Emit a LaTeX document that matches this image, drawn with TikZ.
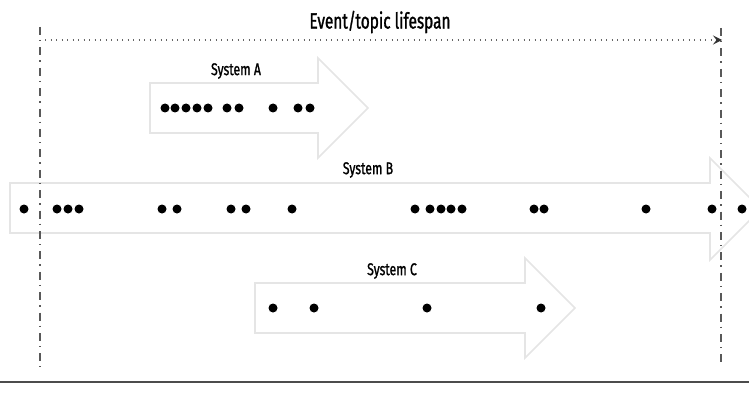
\documentclass[tikz,border=0pt]{standalone}
\usepackage{fontspec}
\usetikzlibrary{arrows.meta}
\newfontfamily\condfont[FakeStretch=0.72,FakeBold=1.2]{Fira Sans}
\newfontfamily\titlefont[FakeStretch=0.70,FakeBold=1.2]{Fira Sans}
\tikzset{
  flowarrow/.style={draw=black!10, line width=1.6pt, fill=white, line join=miter},
  evt/.style={circle, fill=black, inner sep=0pt, minimum size=9pt},
  syslabel/.style={font=\condfont\fontsize{17}{19}\selectfont, inner sep=0pt},
  bound/.style={draw=black!65, line width=2pt, dash pattern=on 8pt off 5pt on 1.4pt off 6pt},
}
\begin{document}
\begin{tikzpicture}[x=1pt, y=-1pt]
\useasboundingbox (0,0) rectangle (749,417);
\clip (0,0) rectangle (749,417);
% system arrows
\draw[flowarrow] (150,83) -- (318,83) -- (318,58) -- (368,108) -- (318,158) -- (318,133) -- (150,133) -- cycle;
\draw[flowarrow] (10,183) -- (710,183) -- (710,158) -- (761,209) -- (710,260) -- (710,233) -- (10,233) -- cycle;
\draw[flowarrow] (255,283) -- (525,283) -- (525,258) -- (575,308) -- (525,358) -- (525,333) -- (255,333) -- cycle;
% lifespan boundaries
\coordinate (l1) at (40,27);
\coordinate (l2) at (40,367);
\coordinate (r1) at (721,28);
\coordinate (r2) at (721,367);
\draw[bound] (l1) -- (l2);
\draw[bound] (r1) -- (r2);
% lifespan arrow
\coordinate (s) at (45,40);
\coordinate (e) at (722,40);
\draw[black!60, line width=1.4pt, dash pattern=on 1.2pt off 4.3pt, -{Stealth[length=9pt,width=9pt,inset=3.5pt,color=black!80,fill=black!80]}] (s) -- (e);
\node[font=\titlefont\fontsize{22}{25}\selectfont, inner sep=0pt] (title) at (380,22) {Event/topic lifespan};
% labels
\node[syslabel] (la) at (236,71) {System A};
\node[syslabel] (lb) at (368,170) {System B};
\node[syslabel] (lc) at (392,271) {System C};
% System A events
\foreach \x [count=\i] in {165,175,186,197,208,227,239,273,298,310}
  \node[evt] (a\i) at (\x,108) {};
% System B events
\foreach \x [count=\i] in {24,57,68,79,162,177,231,246,292,415,430,441,451,462,534,544,646,712,742}
  \node[evt] (b\i) at (\x,209) {};
% System C events
\foreach \x [count=\i] in {273,314,427,541}
  \node[evt] (c\i) at (\x,308) {};
% time axis
\coordinate (t0) at (0,382);
\coordinate (t1) at (749,382);
\draw[black!70, line width=2.8pt] (t0) -- (t1);
\end{tikzpicture}
\end{document}
